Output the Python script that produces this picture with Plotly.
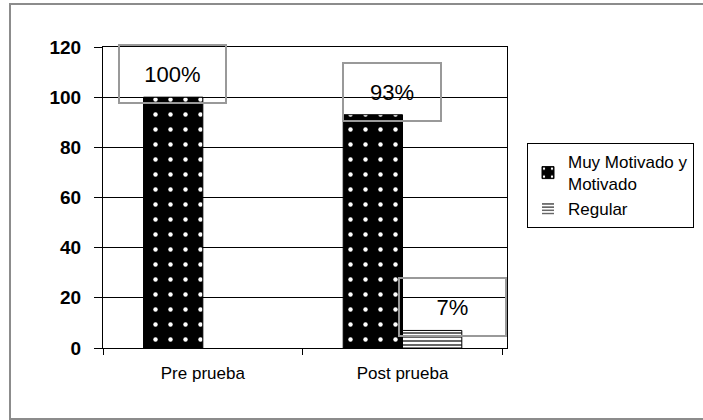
import plotly.graph_objects as go

categories = ["Pre prueba", "Post prueba"]
series_names = ["Muy Motivado y<br>Motivado", "Regular"]
muy_motivado = [100, 93]
regular = [0, 7]
label_muy = ["100%", "93%"]
label_regular = ["", "7%"]
y_ticks = [0, 20, 40, 60, 80, 100, 120]

W, H = 703, 420
L, R, T, B = 103, 196, 47, 72
pw, ph = W - L - R, H - T - B

fig = go.Figure()
fig.add_trace(go.Bar(
    x=categories, y=muy_motivado, name=series_names[0],
    marker=dict(color="black", line=dict(color="black", width=1),
                pattern=dict(shape=".", bgcolor="black", fgcolor="white",
                             fgopacity=1, size=15, solidity=0.07)),
))
fig.add_trace(go.Bar(
    x=categories, y=regular, name=series_names[1],
    marker=dict(color="white", line=dict(color="black", width=[0, 1]),
                pattern=dict(shape="-", bgcolor="white", fgcolor="black",
                             fgopacity=1, size=4, solidity=0.3)),
))

afont = dict(family="Liberation Sans, Arial", size=22, color="black")
annotations = []
for cat, v, t in zip(categories, muy_motivado, label_muy):
    if t:
        annotations.append(dict(x=cat, y=v, xref="x", yref="y", text=t,
                                showarrow=False, xshift=-30 if v == 100 else -11,
                                yshift=23, width=105 if v == 100 else 96, height=56,
                                bordercolor="#999999", borderwidth=2, borderpad=0,
                                font=afont))
for cat, v, t in zip(categories, regular, label_regular):
    if t:
        annotations.append(dict(x=cat, y=v, xref="x", yref="y", text=t,
                                showarrow=False, xshift=50, yshift=23,
                                width=105, height=56,
                                bordercolor="#999999", borderwidth=2, borderpad=0,
                                font=afont))

# outer frame
shapes = [dict(type="rect", xref="paper", yref="paper",
               x0=(10 - L) / pw, x1=(708 - L) / pw,
               y0=(H - B - 419) / ph, y1=(H - B - 4) / ph,
               line=dict(color="#8c8c8c", width=2), fillcolor="rgba(0,0,0,0)", layer="below")]

fig.update_layout(
    width=W, height=H,
    margin=dict(l=L, r=R, t=T, b=B, autoexpand=False),
    paper_bgcolor="white", plot_bgcolor="white",
    barmode="group", bargap=0.406, bargroupgap=0,
    font=dict(family="Liberation Sans, Arial", color="black"),
    showlegend=True,
    legend=dict(xref="container", yref="container",
                x=527 / W, y=1 - 143 / H, xanchor="left", yanchor="top",
                bordercolor="black", borderwidth=1, bgcolor="white",
                font=dict(size=17, color="black"), tracegroupgap=8,
                itemwidth=30),
    annotations=annotations,
    shapes=shapes,
)
fig.update_yaxes(range=[0, 120], tickvals=y_ticks, showgrid=True, gridcolor="black", gridwidth=1,
                 showline=True, linecolor="black", linewidth=1, mirror=True,
                 ticks="outside", ticklen=8, tickcolor="black", ticklabelstandoff=9,
                 tickfont=dict(size=19, family="Liberation Sans, Arial", color="black", weight="bold"),
                 zeroline=False, fixedrange=True, automargin=False)
fig.update_xaxes(showline=True, linecolor="black", linewidth=1, mirror=True,
                 ticks="outside", ticklen=6, tickcolor="black", tickson="boundaries",
                 ticklabelstandoff=10,
                 tickfont=dict(size=17, family="Liberation Sans, Arial", color="black"),
                 fixedrange=True, automargin=False)

fig.write_html("out.html", config={"displayModeBar": False},
               post_script="document.body.style.margin='0';document.body.style.overflow='hidden';"
                           "document.documentElement.style.overflow='hidden';")
